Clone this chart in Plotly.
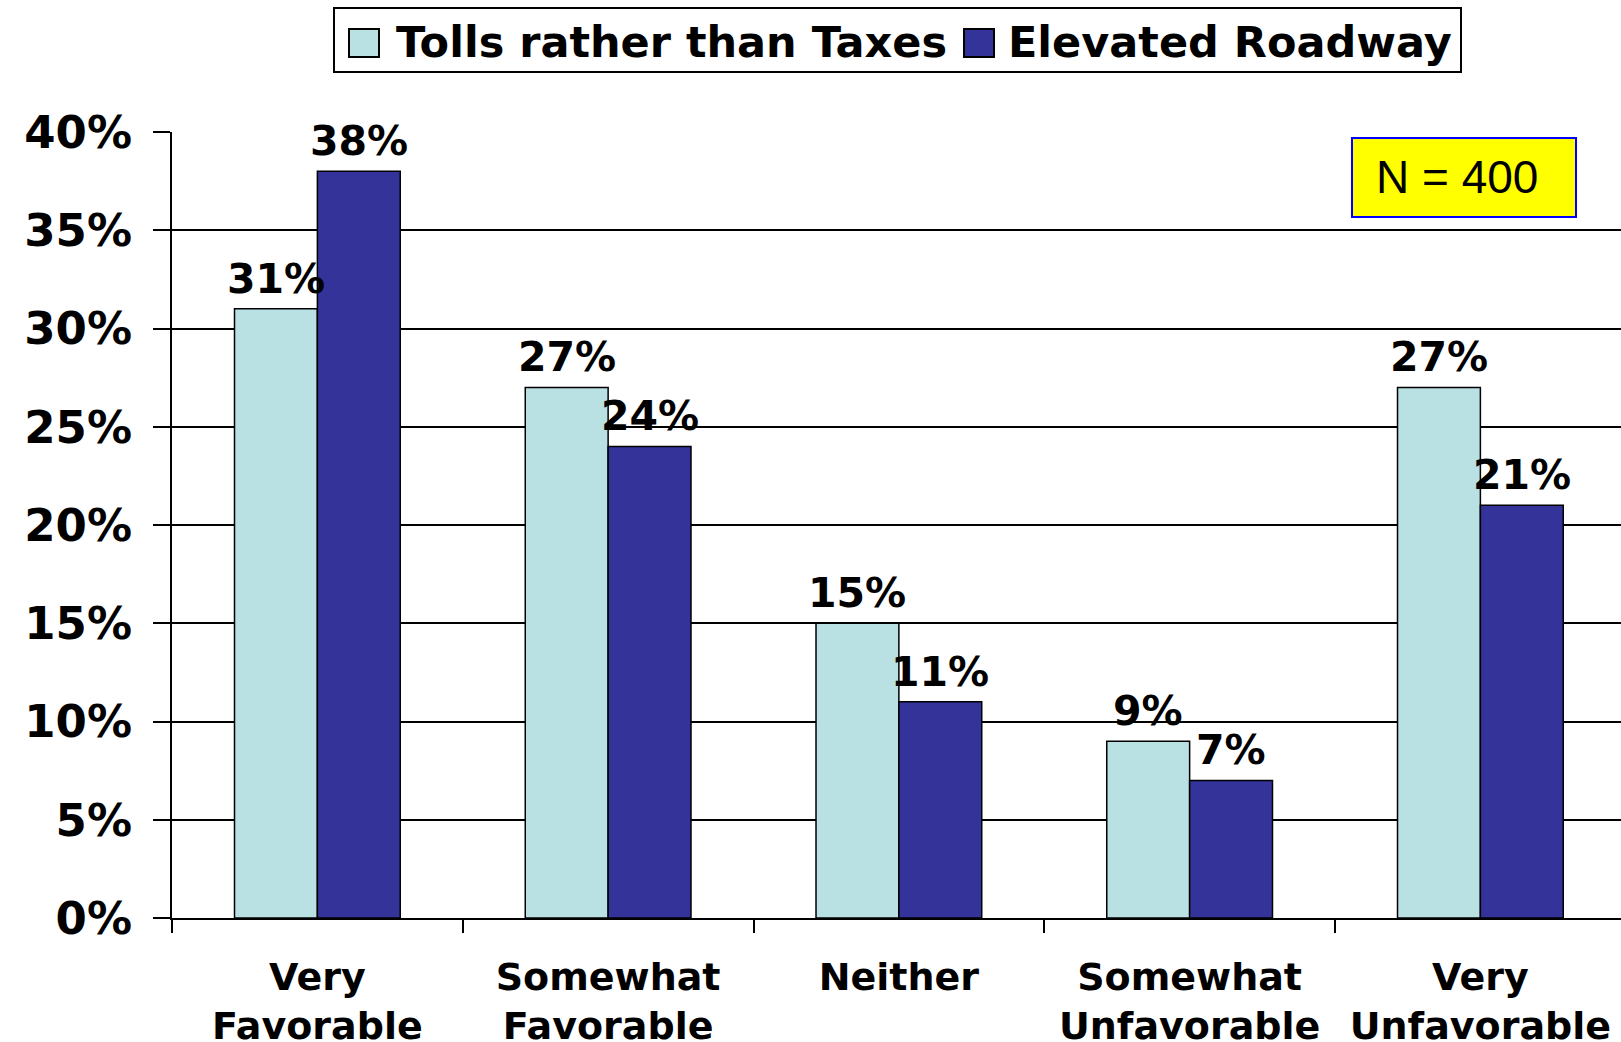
import plotly.graph_objects as go

# ---- data ----
categories = ["Very Favorable", "Somewhat Favorable", "Neither",
              "Somewhat Unfavorable", "Very Unfavorable"]
tick_labels = ["Very<br>Favorable", "Somewhat<br>Favorable", "Neither",
               "Somewhat<br>Unfavorable", "Very<br>Unfavorable"]
series_names = ["Tolls rather than Taxes", "Elevated Roadway"]
tolls = [0.31, 0.27, 0.15, 0.09, 0.27]
elevated = [0.38, 0.24, 0.11, 0.07, 0.21]
y_ticks = [0, 0.05, 0.10, 0.15, 0.20, 0.25, 0.30, 0.35, 0.40]
n_label = "N = 400"

# ---- style ----
W, H = 1621, 1042
L, R, T, B = 172, 0, 132, 124
PW, PH = W - L - R, H - T - B
colors = ["#B9E0E3", "#333399"]
FONT = "DejaVu Sans"
CAT_W = 290.75
BAR_W = 83


def px(x):
    return (x - L) / PW


def py(y):
    return (H - B - y) / PH


fig = go.Figure()
for name, vals, col in zip(series_names, [tolls, elevated], colors):
    fig.add_trace(go.Bar(
        x=categories, y=vals, name=name,
        marker=dict(color=col, line=dict(color="black", width=1.5)),
        showlegend=False, cliponaxis=False,
    ))

shapes = [
    # legend box
    dict(type="rect", xref="paper", yref="paper",
         x0=px(334), x1=px(1461), y0=py(72), y1=py(8),
         line=dict(color="black", width=2), fillcolor="white", layer="above"),
    dict(type="rect", xref="paper", yref="paper",
         x0=px(349), x1=px(379), y0=py(57), y1=py(29),
         line=dict(color="black", width=2), fillcolor=colors[0], layer="above"),
    dict(type="rect", xref="paper", yref="paper",
         x0=px(964), x1=px(994), y0=py(57), y1=py(29),
         line=dict(color="black", width=2), fillcolor=colors[1], layer="above"),
    # N box
    dict(type="rect", xref="paper", yref="paper",
         x0=px(1352), x1=px(1576), y0=py(217), y1=py(138),
         line=dict(color="#0000FF", width=2), fillcolor="#FFFF00", layer="above"),
]

annotations = [
    dict(xref="paper", yref="paper", x=px(394), y=py(42), xanchor="left",
         yanchor="middle", showarrow=False, text=series_names[0],
         font=dict(family=FONT, size=43, color="black", weight="bold")),
    dict(xref="paper", yref="paper", x=px(1006), y=py(42), xanchor="left",
         yanchor="middle", showarrow=False, text=series_names[1],
         font=dict(family=FONT, size=43, color="black", weight="bold")),
    dict(xref="paper", yref="paper", x=px(1457), y=py(177), xanchor="center",
         yanchor="middle", showarrow=False, text=n_label,
         font=dict(family="Liberation Sans", size=46, color="black")),
]

# value labels above each bar
for k, vals in enumerate([tolls, elevated]):
    shift = (k - 0.5) * BAR_W
    for cat, v in zip(categories, vals):
        annotations.append(dict(
            xref="x", yref="y", x=cat, y=v, xshift=shift, yshift=4,
            xanchor="center", yanchor="bottom", showarrow=False,
            text=f"{v:.0%}",
            font=dict(family=FONT, size=41, color="black", weight="bold"),
        ))

fig.update_layout(
    width=W, height=H,
    margin=dict(l=L, r=R, t=T, b=B, pad=0, autoexpand=False),
    paper_bgcolor="white", plot_bgcolor="white",
    barmode="group", bargap=0.43, bargroupgap=0,
    shapes=shapes, annotations=annotations,
    xaxis=dict(
        type="category", tickvals=categories, ticktext=tick_labels,
        range=[-0.5, -0.5 + PW / CAT_W], automargin=False,
        tickson="boundaries", ticks="outside", ticklen=13, tickwidth=1.5,
        tickcolor="black", showline=True, linecolor="black", linewidth=2,
        tickfont=dict(family=FONT, size=38, color="black", weight="bold"),
        ticklabelstandoff=24, showgrid=False,
    ),
    yaxis=dict(
        range=[0, 0.40], tickvals=y_ticks, tickformat=".0%", automargin=False,
        ticks="outside", ticklen=17, tickwidth=1.5, tickcolor="black",
        showline=True, linecolor="black", linewidth=2,
        showgrid=True, gridcolor="black", gridwidth=1.5,
        tickfont=dict(family=FONT, size=45, color="black", weight="bold"),
        ticklabelstandoff=12, zeroline=False,
    ),
)

fig.write_html("out.html")
